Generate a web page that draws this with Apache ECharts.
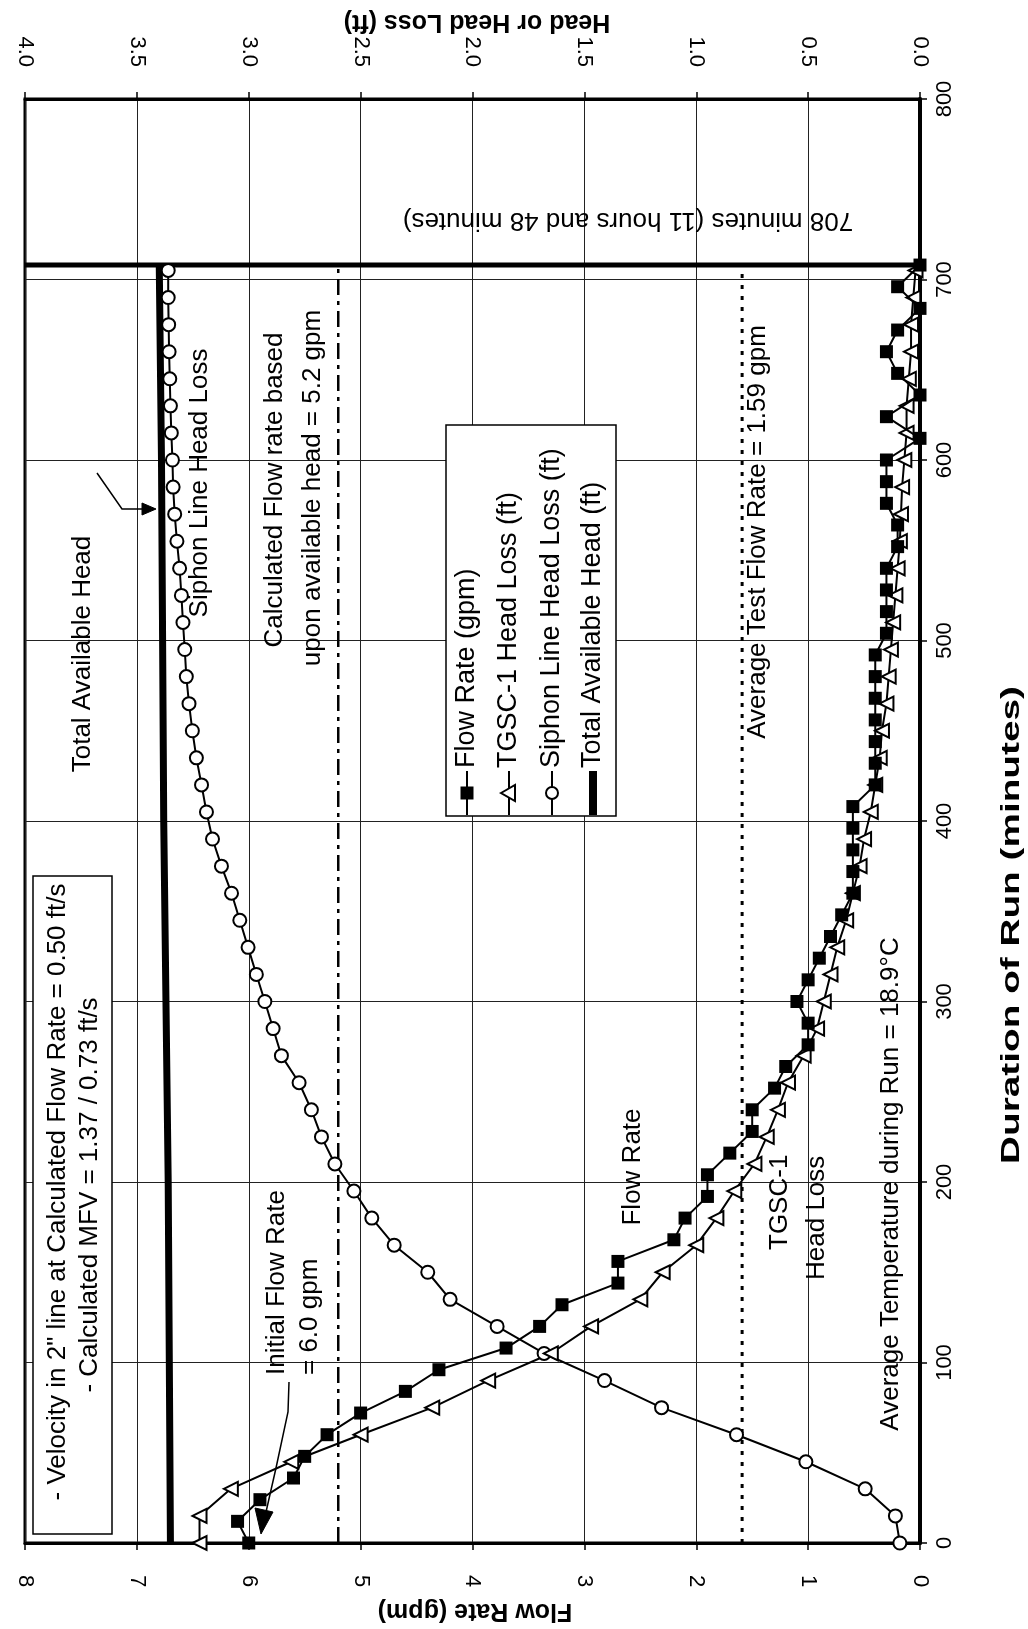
<!DOCTYPE html>
<html><head><meta charset="utf-8">
<script src="https://cdn.jsdelivr.net/npm/echarts@6/dist/echarts.min.js"></script>
<style>html,body{margin:0;padding:0;background:#fff}#chart{width:1028px;height:1629px}</style>
</head><body><div id="chart"></div>
<script>
// ---- data ----
const flowMinutes = [0,12,24,36,48,60,72,84,96,108,120,132,144,156,168,180,192,204,216,228,240,252,264,276,288,300,312,324,336,348,360,372,384,396,408,420,432,444,456,468,480,492,504,516,528,540,552,564,576,588,600,612,624,636,648,660,672,684,696,708];
const flowRate = [6.0,6.1,5.9,5.6,5.5,5.3,5.0,4.6,4.3,3.7,3.4,3.2,2.7,2.7,2.2,2.1,1.9,1.9,1.7,1.5,1.5,1.3,1.2,1.0,1.0,1.1,1.0,0.9,0.8,0.7,0.6,0.6,0.6,0.6,0.6,0.4,0.4,0.4,0.4,0.4,0.4,0.4,0.3,0.3,0.3,0.3,0.2,0.2,0.3,0.3,0.3,0.0,0.3,0.0,0.2,0.3,0.2,0.0,0.2,0.0];
const headMinutes = [0,15,30,45,60,75,90,105,120,135,150,165,180,195,210,225,240,255,270,285,300,315,330,345,360,375,390,405,420,435,450,465,480,495,510,525,540,555,570,585,600,615,630,645,660,675,690,705];
const tgscHeadLoss = [3.22,3.22,3.08,2.81,2.50,2.18,1.93,1.65,1.47,1.25,1.15,1.00,0.91,0.83,0.74,0.685,0.635,0.59,0.52,0.46,0.43,0.40,0.37,0.33,0.30,0.27,0.25,0.22,0.20,0.18,0.17,0.15,0.14,0.13,0.12,0.11,0.10,0.09,0.085,0.08,0.07,0.06,0.06,0.05,0.04,0.04,0.03,0.02];
const siphonHeadLoss = [0.09,0.11,0.245,0.51,0.82,1.155,1.41,1.68,1.89,2.10,2.20,2.35,2.45,2.53,2.615,2.675,2.72,2.775,2.854,2.891,2.928,2.966,3.003,3.04,3.077,3.122,3.162,3.189,3.211,3.234,3.252,3.267,3.279,3.286,3.294,3.301,3.309,3.321,3.331,3.338,3.341,3.346,3.35,3.353,3.356,3.358,3.36,3.36];
const totalHeadMinutes = [0,100,200,300,400,500,600,708];
const totalHead = [3.35,3.355,3.36,3.37,3.38,3.385,3.39,3.40];
const calcFlow = 5.2;          // gpm, calculated flow rate
const avgFlow = 1.59;          // gpm, average test flow rate
const runEnd = 708;            // minutes
const refMinutes = [0, 708];
const flowTicks = [0,1,2,3,4,5,6,7,8];
const headTicks = [0,0.5,1,1.5,2,2.5,3,3.5,4];
const minuteTicks = [0,100,200,300,400,500,600,700,800];

const FONT = '"Liberation Sans", Arial, sans-serif';
const chart = echarts.init(document.getElementById('chart'), null, {renderer: 'canvas'});

const CCW = Math.PI / 2;
function txt(text, x, y, size, opts) {
  opts = opts || {};
  const align = opts.align || 'center';
  return {
    type: 'text', x: x, y: y, rotation: opts.rot === undefined ? CCW : opts.rot, silent: true, z: 100,
    scaleX: opts.sx || 1, scaleY: 1,
    style: {
      text: text, fill: '#000',
      font: (opts.bold ? 'bold ' : '') + size + 'px ' + FONT,
      align: align, textAlign: align, verticalAlign: 'middle', textVerticalAlign: 'middle'
    }
  };
}
function poly(points, w) {
  return {type: 'polyline', silent: true, z: 100, shape: {points: points}, style: {stroke: '#000', lineWidth: w || 1.5, fill: null}};
}
function polygon(points) {
  return {type: 'polygon', silent: true, z: 100, shape: {points: points}, style: {fill: '#000', stroke: '#000'}};
}

const axisLine = {show: true, onZero: false, lineStyle: {color: '#000', width: 3}};
const axisTick = {show: true, inside: false, length: 7, lineStyle: {color: '#000', width: 1.5}};
const lbl = {color: '#000', fontSize: 22, fontFamily: FONT};

// legend (drawn as graphic, rotated like the rest of the figure)
const lgX = [467, 509, 552, 593];
const lgNames = ['Flow Rate (gpm)', 'TGSC-1 Head Loss (ft)', 'Siphon Line Head Loss (ft)', 'Total Available Head (ft)'];
const legendEls = [
  {type: 'rect', silent: true, z: 90, shape: {x: 446, y: 425, width: 170, height: 391}, style: {fill: '#fff', stroke: '#000', lineWidth: 1.5}}
];
lgX.forEach((x, i) => {
  if (i < 3) legendEls.push(poly([[x, 815], [x, 771]], 2));
  else legendEls.push({type: 'rect', silent: true, z: 100, shape: {x: x - 4, y: 771, width: 8, height: 44}, style: {fill: '#000'}});
  if (i === 0) legendEls.push({type: 'rect', silent: true, z: 101, shape: {x: x - 6.5, y: 786.5, width: 13, height: 13}, style: {fill: '#000'}});
  if (i === 1) legendEls.push({type: 'polygon', silent: true, z: 101, shape: {points: [[x - 8, 793], [x + 6, 785], [x + 6, 801]]}, style: {fill: '#fff', stroke: '#000', lineWidth: 2}});
  if (i === 2) legendEls.push({type: 'circle', silent: true, z: 101, shape: {cx: x, cy: 793, r: 6}, style: {fill: '#fff', stroke: '#000', lineWidth: 2}});
  legendEls.push(txt(lgNames[i], x, 768, 27, {align: 'left'}));
});

const option = {
  animation: false,
  backgroundColor: '#fff',
  grid: {left: 25, right: 108, top: 99, bottom: 86, show: true, borderColor: '#000', borderWidth: 3, backgroundColor: 'transparent'},
  xAxis: [
    {type: 'value', position: 'bottom', min: 0, max: 8, interval: 1, inverse: true,
     axisLine: axisLine, axisTick: axisTick,
     axisLabel: Object.assign({rotate: -90, margin: 32}, lbl),
     splitLine: {show: true, lineStyle: {color: '#222', width: 1}}},
    {type: 'value', position: 'top', min: 0, max: 4, interval: 0.5, inverse: true,
     axisLine: axisLine, axisTick: axisTick,
     axisLabel: Object.assign({rotate: 90, margin: 32, formatter: v => v.toFixed(1)}, lbl),
     splitLine: {show: false}}
  ],
  yAxis: [
    {type: 'value', position: 'right', min: 0, max: 800, interval: 100,
     axisLine: {show: true, onZero: false, lineStyle: {color: '#000', width: 4}}, axisTick: axisTick,
     axisLabel: Object.assign({rotate: 90, margin: 14}, lbl),
     splitLine: {show: true, lineStyle: {color: '#222', width: 1}}}
  ],
  series: [
    {name: 'Total Available Head (ft)', type: 'line', xAxisIndex: 1, yAxisIndex: 0, symbol: 'none',
     data: totalHeadMinutes.map((t, i) => [totalHead[i], t]), lineStyle: {color: '#000', width: 7}, z: 3},
    {name: 'Calculated flow', type: 'line', xAxisIndex: 0, yAxisIndex: 0, symbol: 'none',
     data: refMinutes.map(t => [calcFlow, t]), lineStyle: {color: '#000', width: 2.5, type: [16, 6, 4, 6]}, z: 2},
    {name: 'Average flow', type: 'line', xAxisIndex: 0, yAxisIndex: 0, symbol: 'none',
     data: refMinutes.map(t => [avgFlow, t]), lineStyle: {color: '#000', width: 3, type: [4, 7]}, z: 2},
    {name: 'Run end', type: 'line', xAxisIndex: 0, yAxisIndex: 0, symbol: 'none',
     data: [[0, runEnd], [8, runEnd]], lineStyle: {color: '#000', width: 5}, z: 4},
    {name: 'Siphon Line Head Loss (ft)', type: 'line', xAxisIndex: 1, yAxisIndex: 0,
     data: headMinutes.map((t, i) => [siphonHeadLoss[i], t]),
     symbol: 'circle', symbolSize: 13, itemStyle: {color: '#fff', borderColor: '#000', borderWidth: 2},
     lineStyle: {color: '#000', width: 2}, z: 6},
    {name: 'TGSC-1 Head Loss (ft)', type: 'line', xAxisIndex: 1, yAxisIndex: 0,
     data: headMinutes.map((t, i) => [tgscHeadLoss[i], t]),
     symbol: 'triangle', symbolRotate: 90, symbolSize: 14, itemStyle: {color: '#fff', borderColor: '#000', borderWidth: 2},
     lineStyle: {color: '#000', width: 2}, z: 6},
    {name: 'Flow Rate (gpm)', type: 'line', xAxisIndex: 0, yAxisIndex: 0,
     data: flowMinutes.map((t, i) => [flowRate[i], t]),
     symbol: 'rect', symbolSize: 13, itemStyle: {color: '#000'},
     lineStyle: {color: '#000', width: 2}, z: 7}
  ],
  graphic: {elements: [
    // axis titles
    txt('Duration of Run (minutes)', 1012, 925, 25, {bold: true, sx: 1.55}),
    txt('Flow Rate (gpm)', 475, 1611, 25, {bold: true, rot: Math.PI}),
    txt('Head or Head Loss (ft)', 477, 22, 25, {bold: true, rot: Math.PI}),
    // velocity box
    {type: 'rect', silent: true, z: 90, shape: {x: 33, y: 876, width: 79, height: 658}, style: {fill: '#fff', stroke: '#000', lineWidth: 1.5}},
    txt('- Velocity in 2" line at Calculated Flow Rate = 0.50 ft/s', 58, 1192, 26),
    txt('- Calculated MFV = 1.37 / 0.73 ft/s', 90, 1195, 26),
    // annotations
    txt('Total Available Head', 83, 654, 26),
    poly([[97, 473], [122, 509], [146, 509]], 1.5),
    polygon([[156, 509], [142, 503], [142, 515]]),
    txt('Siphon Line Head Loss', 200, 483, 26),
    txt('Calculated Flow rate based', 275, 490, 26),
    txt('upon available head = 5.2 gpm', 313, 488, 26),
    txt('Average Test Flow Rate = 1.59 gpm', 758, 532, 26),
    txt('708 minutes (11 hours and 48 minutes)', 628, 220, 26, {rot: Math.PI}),
    txt('Flow Rate', 633, 1167, 26),
    txt('TGSC-1', 780, 1250, 26, {align: 'left'}),
    txt('Head Loss', 817, 1280, 26, {align: 'left'}),
    txt('Initial Flow Rate', 277, 1375, 26, {align: 'left'}),
    txt('= 6.0 gpm', 310, 1375, 26, {align: 'left'}),
    poly([[289, 1382], [288, 1412], [276, 1468], [266, 1512]], 1.5),
    polygon([[255, 1508], [273, 1512], [261, 1534]]),
    txt('Average Temperature during Run = 18.9°C', 891, 1184, 26)
  ].concat(legendEls)}
};
chart.setOption(option);
</script></body></html>
